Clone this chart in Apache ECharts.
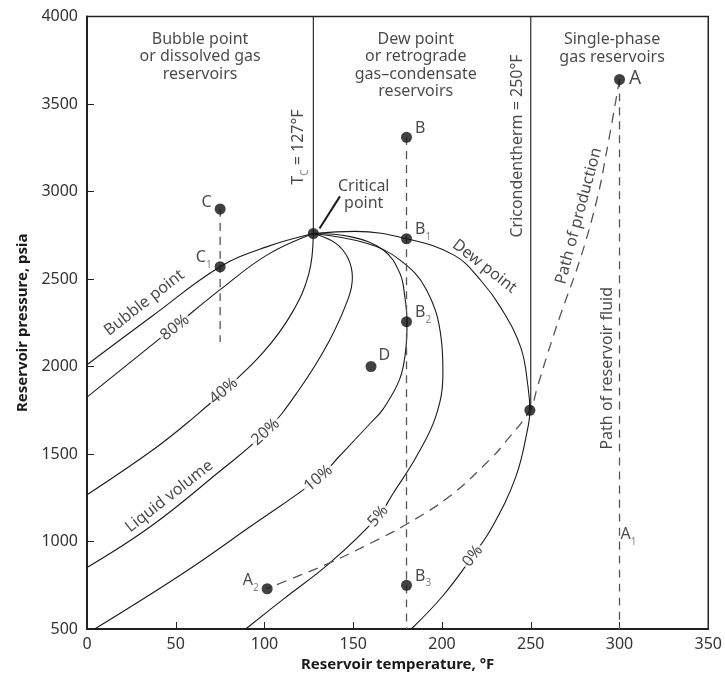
<!DOCTYPE html>
<html>
<head>
<meta charset="utf-8">
<script src="https://cdn.jsdelivr.net/npm/echarts@6/dist/echarts.min.js"></script>
<style>
html, body { margin: 0; padding: 0; background: #fff; }
#chart { width: 725px; height: 677px; }
</style>
</head>
<body>
<div id="chart"></div>
<script>
// phase envelope and quality lines (T in °F, P in psia)
var bubbleT = [0, 37, 75, 101.5, 127.5];
var bubbleP = [2010, 2290, 2570, 2685, 2760];
var liq80T = [0, 49, 75, 101.5, 127.5];
var liq80P = [1825, 2225, 2439, 2638, 2760];
var liq40T = [0, 38, 60.4, 77, 99.5, 115.4, 125, 127.5];
var liq40P = [1267, 1530, 1711, 1860, 2083, 2305, 2531, 2760];
var liq20T = [0, 36, 73.4, 100.6, 119, 136, 147.3, 149.5, 147, 140, 127.5];
var liq20P = [851, 1087, 1390, 1626, 1860, 2137, 2392, 2510, 2620, 2705, 2760];
var liq10T = [4.3, 54.8, 92.2, 130.4, 141.5, 160, 166.9, 176.2, 179.6, 180.3, 179, 176.2, 166.9, 148.2, 127.5];
var liq10P = [500, 823, 1087, 1361, 1480, 1680, 1758, 1929, 2099, 2256, 2402, 2534, 2666, 2742, 2760];
var liq5T = [89.4, 110.8, 137, 164, 172.5, 185.5, 196.7, 200.5, 199.6, 191.2, 176.2, 157.5, 127.5];
var liq5P = [500, 672, 879, 1144, 1276, 1484, 1721, 1967, 2155, 2439, 2609, 2704, 2760];
var dewT = [182.7, 200.5, 217.3, 228.5, 241.6, 248.1, 249.5, 248.5, 244.4, 233.2, 222, 207, 180, 151, 127.5];
var dewP = [500, 690, 917, 1087, 1371, 1636, 1750, 1880, 2108, 2335, 2490, 2635, 2730, 2772, 2760];

// path of production A -> A2
var prodT = [300, 293, 287.4, 278, 266.8, 259.4, 253.7, 249.5, 235, 228.5, 204.3, 178, 160.3, 137, 114.6, 101.5];
var prodP = [3640, 3243, 2959, 2619, 2297, 2070, 1882, 1750, 1560, 1484, 1258, 1087, 993, 879, 785, 730];

// isothermal drops (dashed)
var dropT = [75, 180, 300];
var dropTop = [2900, 3310, 3640];
var dropBottom = [2140, 500, 500];

// marked points
var pointT = [300, 180, 180, 180, 180, 75, 75, 160, 101.5, 127.5, 249.5];
var pointP = [3640, 3310, 2730, 2256, 750, 2900, 2570, 2000, 730, 2760, 1750];
var pointName = ['A', 'B', 'B', 'B', 'B', 'C', 'C', 'D', 'A', '', ''];
var pointSub = ['', '', '1', '2', '3', '', '1', '', '2', '', ''];

var critT = 127.5, critP = 2760;
var cricT = 250, cricP = 1750;

var FONT = 'Noto Sans';
var INK = '#1a1a1a';
var DASH = '#555';

function pairs(t, p) {
    return t.map(function (v, i) { return [v, p[i]]; });
}

function curve(t, p) {
    return {
        type: 'line', data: pairs(t, p), smooth: 0.4, showSymbol: false, symbol: 'none',
        lineStyle: {color: INK, width: 1.1}, z: 2, silent: true
    };
}

function dashLine(data, dash) {
    return {
        type: 'line', data: data, smooth: 0.4, showSymbol: false, symbol: 'none',
        lineStyle: {color: DASH, width: 1.3, type: dash}, z: 2, silent: true
    };
}

var rich = {
    m: {fontFamily: FONT, fontSize: 16, color: INK, verticalAlign: 'bottom', padding: [0, 0, 4, 0]},
    big: {fontFamily: FONT, fontSize: 19, color: INK, verticalAlign: 'bottom', padding: [0, 0, 3, 0]},
    s: {fontFamily: FONT, fontSize: 10, color: '#666', verticalAlign: 'bottom'}
};

// where each point label sits
var placeMap = {
    'A': {position: 'right', offset: [1, 1], big: true},
    'A2': {position: 'left', offset: [0, -6]},
    'B': {position: 'right', offset: [0, -7]},
    'B1': {position: 'right', offset: [0, -7]},
    'B2': {position: 'right', offset: [0, -7]},
    'B3': {position: 'right', offset: [0, -7]},
    'C': {position: 'left', offset: [0, -5]},
    'C1': {position: 'left', offset: [0, -7]},
    'D': {position: 'right', offset: [-1, -9]}
};

var pointData = pointT.map(function (t, i) {
    var key = pointName[i] + pointSub[i];
    var pl = placeMap[key];
    var item = {value: [t, pointP[i]]};
    if (pl) {
        var txt = (pl.big ? '{big|' : '{m|') + pointName[i] + '}' + (pointSub[i] ? '{s|' + pointSub[i] + '}' : '');
        item.label = {show: true, position: pl.position, offset: pl.offset, distance: 3, formatter: txt, rich: rich};
    }
    return item;
});

// text annotations: [T, P, text, rotate, white background]
var notes = [
    [63.7, 3770, 'Bubble point\nor dissolved gas\nreservoirs', 0, false],
    [185.2, 3719, 'Dew point\nor retrograde\ngas\u2013condensate\nreservoirs', 0, false],
    [295.8, 3817, 'Single-phase\ngas reservoirs', 0, false],
    [121, 3254, '{m|T}{s|C}{m| = 127°F}', 90, false],
    [242.5, 3260, 'Cricondentherm = 250°F', 90, false],
    [155.9, 2979, 'Critical\npoint', 0, false],
    [32.3, 2364, 'Bubble point', 38, false],
    [49.5, 2222, '80%', 38, true],
    [77, 1860, '40%', 40, true],
    [100.6, 1626, '20%', 42, true],
    [46.4, 1258, 'Liquid volume', 38, false],
    [130.4, 1361, '10%', 40, true],
    [164, 1144, '5%', 50, true],
    [217.3, 917, '0%', 52, true],
    [223.9, 2572, 'Dew point', -38, false],
    [277, 2860, 'Path of production', 75, false],
    [293, 1990, 'Path of reservoir fluid', 90, false],
    [305, 1019, '{m|A}{s|1}', 0, false]
];

var noteData = notes.map(function (n) {
    return {
        value: [n[0], n[1]],
        label: {
            show: true, position: 'inside', formatter: n[2], rotate: n[3],
            fontFamily: FONT, fontSize: 16, lineHeight: 17.5, color: INK, align: 'center',
            backgroundColor: n[4] ? '#fff' : 'transparent', padding: n[4] ? [0, 2] : 0,
            rich: rich
        }
    };
});

var series = [
    curve(bubbleT, bubbleP),
    curve(liq80T, liq80P),
    curve(liq40T, liq40P),
    curve(liq20T, liq20P),
    curve(liq10T, liq10P),
    curve(liq5T, liq5P),
    curve(dewT, dewP),
    // Tc vertical + arrow to the critical point
    {
        type: 'line', data: [[critT, 4000], [critT, critP]], showSymbol: false, symbol: 'none',
        lineStyle: {color: INK, width: 1.1}, z: 2, silent: true,
        markLine: {
            silent: true, animation: false, symbol: ['none', 'arrow'], symbolSize: [0, 13],
            lineStyle: {color: INK, width: 2, type: 'solid'}, label: {show: false},
            data: [[{coord: [142.5, 2972]}, {coord: [131, 2789]}]]
        }
    },
    // cricondentherm
    {
        type: 'line', data: [[cricT, 4000], [cricT, cricP]], showSymbol: false, symbol: 'none',
        lineStyle: {color: INK, width: 1.1}, z: 2, silent: true
    },
    dashLine(pairs(prodT, prodP), [10, 7])
];
dropT.forEach(function (t, i) {
    series.push(dashLine([[t, dropTop[i]], [t, dropBottom[i]]], [8, 6]));
});
series.push({
    type: 'scatter', data: pointData, symbol: 'circle', symbolSize: 11,
    itemStyle: {color: '#111'}, z: 6, silent: true
});
series.push({
    type: 'scatter', data: noteData, symbolSize: 1,
    itemStyle: {color: 'rgba(0,0,0,0)'}, z: 8, silent: true
});

var option = {
    animation: false,
    backgroundColor: '#fff',
    textStyle: {fontFamily: FONT},
    grid: {left: 87, right: 13, top: 16.5, bottom: 44, show: true, borderColor: '#222', borderWidth: 1.5},
    xAxis: {
        type: 'value', min: 0, max: 350, interval: 50,
        name: 'Reservoir temperature, °F', nameLocation: 'middle', nameGap: 28,
        nameTextStyle: {fontFamily: FONT, fontSize: 15, fontWeight: 'bold', color: INK},
        axisLine: {show: true, lineStyle: {color: '#222', width: 2}},
        axisTick: {show: true, inside: true, length: 7, lineStyle: {color: '#222', width: 1}},
        axisLabel: {fontFamily: FONT, fontSize: 16, color: '#333', margin: 7},
        splitLine: {show: false}
    },
    yAxis: {
        type: 'value', min: 500, max: 4000, interval: 500,
        name: 'Reservoir pressure, psia', nameLocation: 'middle', nameGap: 57,
        nameTextStyle: {fontFamily: FONT, fontSize: 15, fontWeight: 'bold', color: INK},
        axisLine: {show: true, lineStyle: {color: '#222', width: 2}},
        axisTick: {show: true, inside: true, length: 7, lineStyle: {color: '#222', width: 1}},
        axisLabel: {
            fontFamily: FONT, fontSize: 16, color: '#333', margin: 9,
            formatter: function (v) { return String(v); }
        },
        splitLine: {show: false}
    },
    series: series
};

var chart = echarts.init(document.getElementById('chart'));
chart.setOption(option);
</script>
</body>
</html>
